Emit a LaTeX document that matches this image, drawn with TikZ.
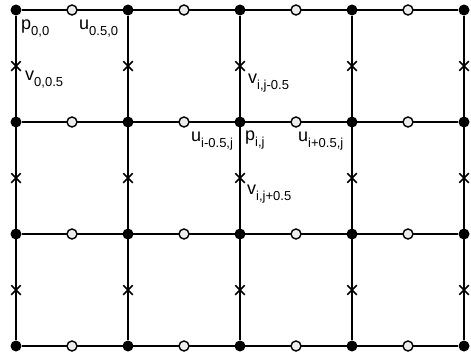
\documentclass[tikz,border=0pt]{standalone}
\usepackage{fontspec}
\setmainfont{Liberation Sans}
\usetikzlibrary{shapes.misc}
\newcommand{\idx}[2]{#1\raisebox{-6pt}{\fontsize{13}{13}\selectfont #2}}

\begin{document}
\begin{tikzpicture}[x=1pt, y=-1pt,
    gridline/.style={line width=1.9pt},
    pdot/.style={circle, fill=black, minimum size=11pt, inner sep=0pt},
    udot/.style={circle, draw, line width=1.4pt, fill=gray!15, minimum size=10pt, inner sep=0pt},
    vmark/.style={cross out, draw, line width=1.5pt, minimum size=8pt, inner sep=0pt},
    lbl/.style={anchor=base west, inner sep=0pt, font=\fontsize{18}{18}\selectfont}]
  \useasboundingbox (0,0) rectangle (471,356);
  % pressure points
  \foreach \i in {0,...,4}
    \foreach \j in {0,...,3}
      \node[pdot] (p-\i-\j) at (16+112*\i, 10+112*\j) {};
  % grid
  \foreach \j in {0,...,3}
    \draw[gridline] (p-0-\j) -- (p-4-\j);
  \foreach \i in {0,...,4}
    \draw[gridline] (p-\i-0) -- (p-\i-3);
  % u on horizontal faces, v on vertical faces
  \foreach \i in {0,...,3}
    \foreach \j in {0,...,3}
      \node[udot] (u-\i-\j) at (72+112*\i, 10+112*\j) {};
  \foreach \i in {0,...,4}
    \foreach \j in {0,...,2}
      \node[vmark] (v-\i-\j) at (16+112*\i, 66+112*\j) {};
  % labels
  \node[lbl] (l-p00) at (21,29) {\idx{p}{0,0}};
  \node[lbl] (l-u00) at (79,29) {\idx{u}{0.5,0}};
  \node[lbl] (l-v00) at (25,80) {\idx{v}{0,0.5}};
  \node[lbl] (l-vn) at (248,83) {\idx{v}{i,j-0.5}};
  \node[lbl] (l-uw) at (191,141) {\idx{u}{i-0.5,j}};
  \node[lbl] (l-pij) at (245,140) {\idx{p}{i,j}};
  \node[lbl] (l-ue) at (298,141) {\idx{u}{i+0.5,j}};
  \node[lbl] (l-vs) at (247,194) {\idx{v}{i,j+0.5}};
\end{tikzpicture}
\end{document}
